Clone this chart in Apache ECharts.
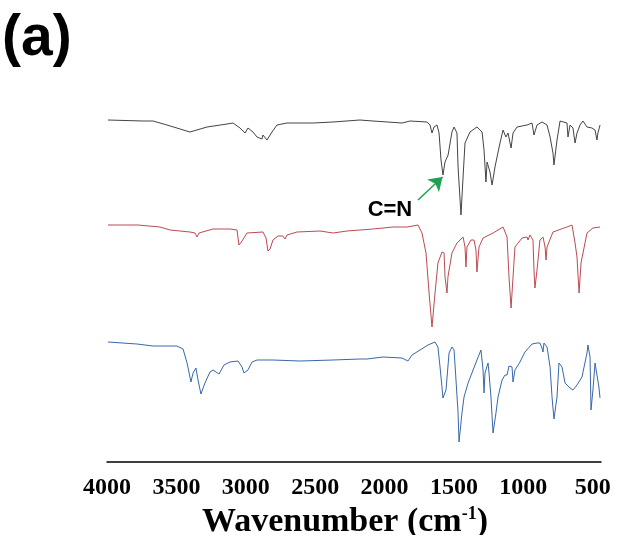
<!DOCTYPE html>
<html>
<head>
<meta charset="utf-8">
<script src="https://cdn.jsdelivr.net/npm/echarts@6/dist/echarts.min.js"></script>
<style>
  html, body { margin: 0; padding: 0; background: #fff; }
  #chart { width: 625px; height: 535px; }
</style>
</head>
<body>
<div id="chart"></div>
<script>
// Tick labels of the wavenumber axis
var tickLabels = [4000, 3500, 3000, 2500, 2000, 1500, 1000, 500];

// Top trace (black) : wavenumber (cm-1) and offset intensity (a.u.)
var blackWn = [3993,3741,3668,3568,3402,3279,3135,3092,3041,3005,2984,2948,2919,2883,2876,2847,2840,2811,2775,2703,2609,2515,2371,2177,2083,1874,1816,1694,1672,1658,1643,1622,1607,1593,1579,1564,1542,1514,1499,1478,1470,1449,1434,1420,1384,1334,1297,1283,1269,1261,1240,1225,1204,1168,1146,1125,1110,1088,1074,1045,973,937,923,901,865,829,807,786,779,757,735,685,678,663,642,627,613,591,570,541,505,483,469,462,447];
var blackI  = [342,341,341,337,330,335,338,339,334,329,334,330,325,323,327,322,320,330,337,339,339,339,340,342,341,339,341,340,337,329,335,337,329,302,287,300,307,330,335,329,295,247,285,319,330,335,330,312,280,300,290,277,295,319,332,325,329,314,329,335,337,339,327,337,340,337,325,309,297,322,341,339,325,337,334,319,329,337,341,335,334,332,322,329,337];

// Middle trace (red)
var redWn = [3993,3777,3618,3546,3402,3366,3351,3337,3236,3114,3063,3049,3027,2991,2876,2854,2840,2825,2804,2768,2732,2717,2703,2631,2465,2371,2270,2177,2083,1939,1838,1759,1730,1701,1679,1658,1636,1615,1586,1571,1564,1550,1543,1514,1478,1434,1420,1413,1406,1377,1355,1341,1334,1319,1290,1218,1146,1117,1103,1088,1074,1060,1009,973,966,952,930,923,916,901,880,858,843,836,829,786,685,649,627,613,598,584,541,498,447];
var redI  = [237,237,235,232,230,229,225,229,233,233,232,217,221,229,230,224,211,213,222,226,226,223,227,230,231,229,231,232,233,235,235,237,229,209,169,135,169,199,210,209,185,169,185,209,219,225,215,195,215,222,222,212,190,215,224,229,235,225,185,154,185,215,224,225,222,227,222,192,174,192,222,225,215,202,215,230,235,237,219,205,169,199,229,234,235];

// Bottom trace (blue)
var blueWn = [3993,3784,3668,3496,3452,3423,3395,3380,3359,3344,3323,3294,3258,3236,3193,3157,3114,3056,3027,3013,2984,2955,2919,2804,2609,2371,2177,2126,2011,1874,1831,1802,1744,1687,1636,1615,1600,1586,1579,1557,1535,1514,1499,1485,1470,1463,1442,1427,1398,1334,1305,1290,1283,1276,1254,1247,1233,1218,1197,1182,1153,1132,1117,1103,1081,1074,1060,1024,988,937,901,880,865,858,851,829,807,793,779,757,743,721,699,663,642,613,577,541,534,519,512,498,483,469,455,447];
var blueI  = [120,118,116,116,113,99,80,89,94,82,68,79,90,92,88,97,100,101,95,89,92,100,102,102,101,102,103,103,105,104,101,107,112,117,120,115,95,75,64,72,109,115,112,82,49,20,49,65,79,102,112,92,69,89,99,89,65,29,49,65,82,87,87,96,95,80,92,100,110,118,119,119,114,110,119,115,95,65,43,65,99,95,79,74,72,77,85,109,117,105,52,72,99,99,75,64];

// Annotation: arrow start / tip and label position (wavenumber, intensity)
var cnLabel = 'C=N';
var cnArrowFrom = [1759, 262];
var cnArrowTo = [1582, 285];
var cnTextAt = [1961, 252];

function pairs(xs, ys) {
  var out = [];
  for (var i = 0; i < xs.length; i++) out.push([xs[i], ys[i]]);
  return out;
}

var serif = '"Liberation Serif", "Times New Roman", serif';
var sans = '"Liberation Sans", Arial, sans-serif';

var chart = echarts.init(document.getElementById('chart'), null, { renderer: 'canvas' });

chart.setOption({
  animation: false,
  backgroundColor: '#ffffff',
  grid: { left: 107, right: 24, top: 100, bottom: 73, containLabel: false, outerBoundsMode: 'none' },
  graphic: [{
    type: 'text',
    left: 2,
    top: 11,
    style: {
      text: '(a)',
      fill: '#000',
      font: 'bold 57px ' + sans
    }
  }],
  xAxis: {
    type: 'value',
    inverse: true,
    min: 440,
    max: 4000,
    splitLine: { show: false },
    axisTick: { show: false },
    axisLine: { show: true, onZero: false, lineStyle: { color: '#000', width: 1.5 } },
    axisLabel: {
      customValues: tickLabels,
      formatter: function (v) { return String(v); },
      margin: 14,
      color: '#000',
      fontFamily: serif,
      fontWeight: 'bold',
      fontSize: 24
    },
    name: '{m|Wavenumber (cm}{s|-1}{m|)}',
    nameLocation: 'middle',
    nameGap: 40,
    nameTextStyle: {
      padding: [0, 18, 0, 0],
      rich: {
        m: {
          fontFamily: serif,
          fontWeight: 'bold',
          fontSize: 34,
          color: '#000',
          lineHeight: 35
        },
        s: {
          fontFamily: serif,
          fontWeight: 'bold',
          fontSize: 18,
          color: '#000',
          lineHeight: 18,
          verticalAlign: 'top'
        }
      }
    }
  },
  yAxis: {
    type: 'value',
    min: 0,
    max: 362,
    show: false
  },
  series: [
    {
      name: 'top',
      type: 'line',
      data: pairs(blackWn, blackI),
      showSymbol: false,
      lineStyle: { color: '#444444', width: 1 },
      markLine: {
        silent: true,
        symbol: ['none', 'arrow'],
        symbolSize: 13,
        label: { show: false },
        lineStyle: { color: '#1da350', width: 1.5, type: 'solid' },
        data: [[{ coord: cnArrowFrom }, { coord: cnArrowTo }]]
      },
      markPoint: {
        silent: true,
        symbol: 'circle',
        symbolSize: 1,
        itemStyle: { color: 'rgba(0,0,0,0)' },
        label: {
          show: true,
          position: 'inside',
          formatter: cnLabel,
          color: '#000',
          fontFamily: sans,
          fontWeight: 'bold',
          fontSize: 22
        },
        data: [{ coord: cnTextAt }]
      }
    },
    {
      name: 'middle',
      type: 'line',
      data: pairs(redWn, redI),
      showSymbol: false,
      lineStyle: { color: '#bd4a50', width: 1 }
    },
    {
      name: 'bottom',
      type: 'line',
      data: pairs(blueWn, blueI),
      showSymbol: false,
      lineStyle: { color: '#3868aa', width: 1 }
    }
  ]
});
</script>
</body>
</html>
